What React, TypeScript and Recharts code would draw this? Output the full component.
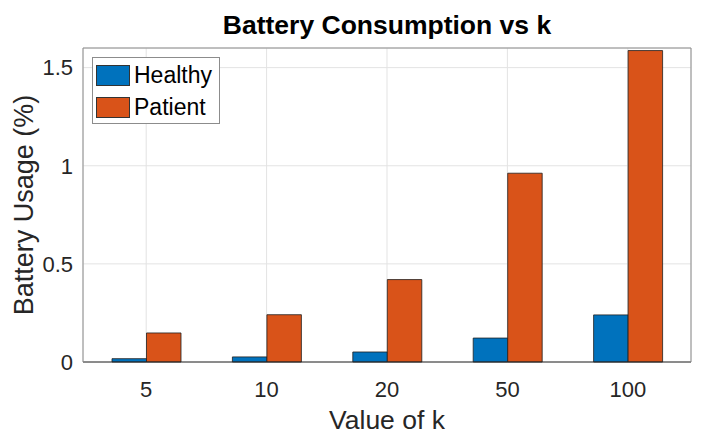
import React from 'react';
import { BarChart, Bar, XAxis, YAxis, CartesianGrid, Legend, Label } from 'recharts';

const kValues = ['5', '10', '20', '50', '100'];
const healthyUsage = [0.017, 0.026, 0.051, 0.122, 0.24];
const patientUsage = [0.148, 0.241, 0.42, 0.962, 1.587];
const yTicks = [0, 0.5, 1, 1.5];

const BLUE = '#0072BD';
const ORANGE = '#D95319';
const AXIS = '#262626';
const BOX = '#8c8c8c';
const FONT = '"Liberation Sans", Arial, Helvetica, sans-serif';

const data = kValues.map((k, i) => ({ k, healthy: healthyUsage[i], patient: patientUsage[i] }));

const renderLegend = (props: any) => {
  const { payload } = props;
  return (
    <div
      style={{
        boxSizing: 'border-box',
        width: 128,
        height: 67,
        border: `1px solid ${BOX}`,
        background: '#fff',
        paddingTop: 1,
        paddingLeft: 3,
        fontFamily: FONT,
      }}
    >
      {payload.map((entry: any) => (
        <div key={entry.value} style={{ display: 'flex', alignItems: 'center', height: 32 }}>
          <span
            style={{
              boxSizing: 'border-box',
              width: 34,
              height: 21,
              background: entry.color,
              border: '1px solid #333',
              flexShrink: 0,
            }}
          />
          <span style={{ marginLeft: 4, fontSize: 23, color: '#000' }}>{entry.value}</span>
        </div>
      ))}
    </div>
  );
};

export default function App() {
  return (
    <div style={{ position: 'relative', width: 706, height: 444, background: '#fff' }}>
      <style>{'body{margin:0}'}</style>
      <svg width={706} height={444} style={{ position: 'absolute', left: 0, top: 0, pointerEvents: 'none' }}>
        <text x={387} y={34} textAnchor="middle" fontFamily={FONT} fontWeight="bold" fontSize={26.5} fill="#000">
          Battery Consumption vs k
        </text>
      </svg>
      <BarChart
        width={706}
        height={444}
        data={data}
        margin={{ top: 48, right: 15, bottom: 0, left: 0 }}
        barGap={0}
        style={{ position: 'absolute', left: 0, top: 0 }}
      >
        <CartesianGrid stroke="#e3e3e3" strokeWidth={1} />
        <XAxis
          dataKey="k"
          height={82}
          padding={{ left: 3, right: 3 }}
          tickLine={false}
          tickSize={0}
          tickMargin={19}
          axisLine={{ stroke: AXIS }}
          tick={{ fontSize: 22, fill: AXIS, fontFamily: FONT }}
        >
          <Label
            value="Value of k"
            position="insideBottom"
            offset={15}
            style={{ fontSize: 26.5, fill: AXIS, fontFamily: FONT }}
          />
        </XAxis>
        <XAxis
          xAxisId="bottomTicks"
          dataKey="k"
          orientation="bottom"
          mirror
          padding={{ left: 3, right: 3 }}
          tick={false}
          tickSize={6}
          axisLine={false}
          tickLine={{ stroke: AXIS }}
        />
        <XAxis
          xAxisId="topBox"
          dataKey="k"
          orientation="top"
          mirror
          padding={{ left: 3, right: 3 }}
          tick={false}
          tickSize={6}
          axisLine={{ stroke: BOX }}
          tickLine={{ stroke: AXIS }}
        />
        <YAxis
          width={83}
          domain={[0, 1.6]}
          ticks={yTicks}
          interval={0}
          tickLine={false}
          tickSize={0}
          tickMargin={10}
          axisLine={{ stroke: BOX }}
          tick={{ fontSize: 22, fill: AXIS, fontFamily: FONT }}
        >
          <Label
            value="Battery Usage (%)"
            angle={-90}
            position="insideLeft"
            offset={23}
            style={{ fontSize: 27, fill: AXIS, fontFamily: FONT, textAnchor: 'middle' }}
          />
        </YAxis>
        <YAxis
          yAxisId="leftTicks"
          orientation="left"
          mirror
          domain={[0, 1.6]}
          ticks={yTicks}
          tick={false}
          tickSize={6}
          axisLine={false}
          tickLine={{ stroke: AXIS }}
        />
        <YAxis
          yAxisId="rightBox"
          orientation="right"
          mirror
          width={1}
          domain={[0, 1.6]}
          ticks={yTicks}
          tick={false}
          tickSize={6}
          axisLine={{ stroke: BOX }}
          tickLine={{ stroke: AXIS }}
        />
        <Legend
          layout="horizontal"
          verticalAlign="middle"
          align="center"
          content={renderLegend}
          wrapperStyle={{ left: 92, top: 57, width: 128, height: 67 }}
        />
        <Bar dataKey="healthy" name="Healthy" fill={BLUE} stroke="#1f1f1f" strokeWidth={0.8} barSize={34.5} isAnimationActive={false} />
        <Bar dataKey="patient" name="Patient" fill={ORANGE} stroke="#1f1f1f" strokeWidth={0.8} barSize={34.5} isAnimationActive={false} />
      </BarChart>
    </div>
  );
}
